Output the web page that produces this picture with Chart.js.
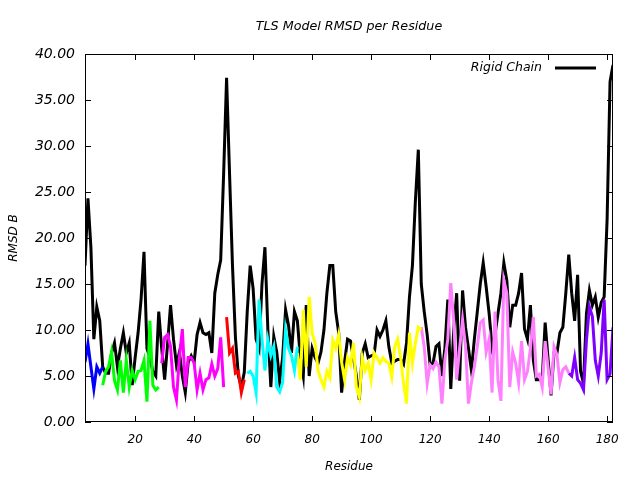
<!DOCTYPE html>
<html lang="en">
<head>
<meta charset="UTF-8">
<title>TLS Model RMSD per Residue</title>
<script src="https://cdn.jsdelivr.net/npm/chart.js"></script>
<style>
    html, body { margin: 0; padding: 0; background: #fff; }
    #wrap { width: 640px; height: 480px; }
</style>
</head>
<body>
<div id="wrap"><canvas id="rmsdChart" width="640" height="480"></canvas></div>
<script>
// residue range of the x axis and tick labels
const residueMin = 3;
const residueMax = 182;
const xTicks = [20, 40, 60, 80, 100, 120, 140, 160, 180];

// rigid chain RMSD, residues 3..182
const rigidStart = 3;
const rigidChain = [
    17, 24.3, 19, 9, 12.5, 11, 6, 5.3, 5.3, 7.5,
    8.6, 6, 8, 9.7, 7.5, 8.6, 4, 7, 9.7, 13.3,
    18.5, 8, 7, 5.5, 5, 12, 8, 4.6, 8.5, 12.7,
    9, 6.2, 7.6, 5, 3.2, 6.5, 7.2, 6.5, 9.5, 10.8,
    9.7, 9.5, 9.7, 7.5, 14, 16, 17.6, 27, 37.4, 27,
    17, 9.2, 5, 3.8, 5.4, 12, 17, 14.5, 9, 8,
    15, 19, 10, 3.8, 9.3, 7.6, 4.4, 7, 12.2, 10.5,
    7.5, 12, 11, 7, 5, 12.7, 5, 8, 7, 6.4,
    7.6, 10, 14, 17, 17, 12, 9.7, 3.2, 6.5, 9,
    8.8, 7, 5, 2.4, 7.5, 8.5, 7, 7.2, 7.3, 10,
    9.3, 10, 11, 8.2, 6.4, 6.6, 6.8, 6.8, 6.3, 8.6,
    13.6, 17, 24, 29.6, 15, 12, 9.5, 6.2, 6.4, 8.2,
    8.5, 5, 8, 13.3, 3.6, 10, 14, 4.5, 14.3, 10.3,
    8, 5.6, 9, 12, 15, 17.3, 14.7, 11.8, 8.2, 9.5,
    11.8, 14, 17.3, 15.4, 10.3, 12.7, 12.7, 14, 16.2, 10.1,
    9, 12.7, 6.7, 4.6, 4.6, 4.6, 10.8, 6.8, 2.9, 7.5,
    7.5, 9.7, 10.3, 14, 18.2, 14, 11, 16, 5.5, 4.2,
    11.8, 14.3, 12.7, 13.6, 11.4, 13, 13.6, 22, 37, 38.8
];

// TLS group segments: first residue, values, colour
const groupStarts = [3, 9, 29, 51, 58, 75, 117, 167];
const groupColors = ['#0000ff', '#00ff00', '#ff00ff', '#ff0000', '#00ffff', '#ffff00', '#ff80ff', '#8000ff'];
const groupValues = [
    [6.5, 8.5, 6, 3.6, 6, 5.3, 6],
    [4.0, 5.5, 6.0, 7.6, 4.5, 3.5, 6.7, 3.2, 6.7, 3.8, 5.6, 4.6, 5.5, 5.6, 6.7, 2.2, 11, 4, 3.5, 3.8],
    [6.4, 9.2, 9.5, 8.2, 3.8, 2.4, 7, 10.1, 3.8, 7, 7, 6.4, 3.5, 5.3, 3.5, 4.6, 4.8, 6.3, 5, 5.8, 9.2, 3.8],
    [11.4, 7.5, 8, 5.3, 5.5, 3.2, 4.6],
    [5.3, 5.5, 5, 3.2, 13.3, 9, 5.6, 8.9, 7.2, 8.2, 3.8, 3.3, 4.3, 10, 8, 7.2, 5.6, 8.2],
    [7.5, 4.6, 12.2, 6, 13.6, 9.7, 8.6, 5.6, 4.6, 3.8, 5.5, 4.8, 8.9, 8, 9.5, 6.5, 4.6, 7, 6.2, 8.6,
     3.8, 2.7, 7, 5.6, 6.4, 4.6, 7.5, 7, 6.4, 7, 6.6, 6.4, 4.9, 8.2, 9, 7, 4.2, 2, 9.7, 6.4, 8.6, 10.3, 10],
    [10.3, 8.2, 4.2, 6.2, 5.8, 6.5, 6, 2, 6.7, 9, 15.1, 11, 4.6, 8, 11.1, 8.2, 2, 4.3, 6, 8.2,
     10.8, 11.1, 7.6, 9, 3.2, 12, 4.6, 2.3, 15.4, 14, 3.8, 7.6, 6.4, 4.3, 8.8, 4.6, 5.5, 8, 11.4, 5,
     5.2, 3.8, 8.8, 5.9, 3, 8.2, 7.3, 4.3, 5.7, 6, 5.3],
    [5.3, 5.0, 7, 4.6, 4.2, 3.5, 8.9, 12.5, 11.5, 6.7, 5, 7.5, 13.3, 4.6, 5.2, 10.3]
];

const yTickStep = 5;
const yMax = 40;
const chartTitle = 'TLS Model RMSD per Residue';

function toPoints(start, values) {
    return values.map((v, i) => ({ x: start + i, y: v }));
}

const FONT = 'DejaVu Sans';

const datasets = [{
    label: 'Rigid Chain',
    data: toPoints(rigidStart, rigidChain),
    borderColor: '#000000',
    borderWidth: 3,
    pointRadius: 0,
    tension: 0,
    order: 10
}];
groupValues.forEach((vals, i) => {
    datasets.push({
        label: '',
        data: toPoints(groupStarts[i], vals),
        borderColor: groupColors[i],
        borderWidth: 3,
        pointRadius: 0,
        tension: 0,
        order: 1
    });
});

// gnuplot-like frame, inward ticks, title over the plot and in-plot key
const framePlugin = {
    id: 'frame',
    afterDraw(chart) {
        const { ctx, chartArea: a, scales: { x, y } } = chart;
        ctx.save();
        ctx.strokeStyle = '#000';
        ctx.lineWidth = 1;
        ctx.strokeRect(a.left + 0.5, a.top + 0.5, a.right - a.left - 1, a.bottom - a.top - 1);
        const len = 6;
        ctx.beginPath();
        x.ticks.forEach(t => {
            const px = Math.round(x.getPixelForValue(t.value)) + 0.5;
            ctx.moveTo(px, a.bottom); ctx.lineTo(px, a.bottom - len);
            ctx.moveTo(px, a.top); ctx.lineTo(px, a.top + len);
        });
        y.ticks.forEach(t => {
            const py = Math.round(y.getPixelForValue(t.value)) + 0.5;
            ctx.moveTo(a.left, py); ctx.lineTo(a.left + len, py);
            ctx.moveTo(a.right, py); ctx.lineTo(a.right - len, py);
        });
        ctx.stroke();

        ctx.fillStyle = '#000';
        ctx.textBaseline = 'middle';

        // title
        ctx.font = 'italic 12.7px "' + FONT + '"';
        ctx.textAlign = 'center';
        ctx.fillText(chartTitle, (a.left + a.right) / 2, 27);

        // key
        const ds = chart.data.datasets[0];
        ctx.font = 'italic 12.5px "' + FONT + '"';
        ctx.textAlign = 'right';
        ctx.fillText(ds.label, a.right - 71, a.top + 14);
        ctx.beginPath();
        ctx.lineWidth = 3;
        ctx.strokeStyle = ds.borderColor;
        ctx.moveTo(a.right - 58, a.top + 14);
        ctx.lineTo(a.right - 17, a.top + 14);
        ctx.stroke();
        ctx.restore();
    }
};

new Chart(document.getElementById('rmsdChart'), {
    type: 'line',
    data: { datasets: datasets },
    options: {
        responsive: false,
        animation: false,
        layout: { padding: { left: 0, right: 27, top: 54, bottom: 0 } },
        plugins: {
            legend: { display: false },
            tooltip: { enabled: false },
            title: { display: false }
        },
        scales: {
            x: {
                type: 'linear',
                min: residueMin,
                max: residueMax,
                afterBuildTicks: s => { s.ticks = xTicks.map(v => ({ value: v })); },
                afterFit: s => { s.height = 58; },
                grid: { display: false, drawTicks: false },
                border: { display: false },
                ticks: {
                    color: '#000',
                    padding: 11,
                    maxRotation: 0,
                    font: { family: FONT, size: 12, style: 'italic' }
                },
                title: {
                    display: true,
                    text: 'Residue',
                    color: '#000',
                    font: { family: FONT, size: 12, style: 'italic' },
                    padding: { top: 0, bottom: 6 }
                }
            },
            y: {
                min: 0,
                max: yMax,
                afterFit: s => { s.width = 85; },
                grid: { display: false, drawTicks: false },
                border: { display: false },
                ticks: {
                    stepSize: yTickStep,
                    color: '#000',
                    padding: 10,
                    font: { family: FONT, size: 14, style: 'italic' },
                    callback: v => v.toFixed(2)
                },
                title: {
                    display: true,
                    text: 'RMSD B',
                    color: '#000',
                    font: { family: FONT, size: 12, style: 'italic' },
                    padding: { top: 7, bottom: 0 }
                }
            }
        }
    },
    plugins: [framePlugin]
});
</script>
</body>
</html>
